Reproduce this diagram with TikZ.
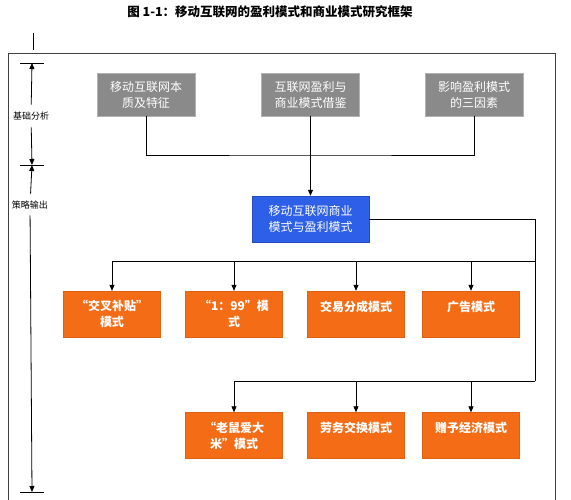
\documentclass[tikz,border=0pt]{standalone}
\usepackage{fontspec}
\newfontfamily\cjk{Noto Sans CJK SC}
\usetikzlibrary{arrows.meta}
\definecolor{boxgray}{RGB}{138,138,138}
\definecolor{boxblue}{RGB}{45,95,232}
\definecolor{boxorange}{RGB}{244,108,22}
\tikzset{%
  tipA/.tip={Triangle[length=6pt,width=5pt]},
  gbox/.style={fill=boxgray, draw=gray!60, text=white, align=center,
    minimum width=98pt, minimum height=43pt, inner sep=2pt,
    font=\cjk\fontsize{12}{16}\selectfont},
  bbox/.style={gbox, fill=boxblue, draw=boxblue!80!black,
    minimum width=117pt, minimum height=46pt},
  obox/.style={gbox, fill=boxorange, draw=boxorange!90!black,
    minimum width=97pt, minimum height=46pt,
    font=\cjk\bfseries\fontsize{12}{16}\selectfont},
  side/.style={font=\cjk\fontsize{9}{10}\selectfont, inner sep=2pt},
  wire/.style={line width=0.8pt}
}

\begin{document}
\begin{tikzpicture}[x=1pt,y=-1pt]
\clip (0,0) rectangle (571,500);
\fill[white] (0,0) rectangle (571,500);
\node[font=\cjk\bfseries\fontsize{12.5}{14}\selectfont] (title) at (270,12) {图 1-1：移动互联网的盈利模式和商业模式研究框架};
% frame
\draw[line width=0.8pt, black!75] (8,53) rectangle (555,520);
\draw[line width=0.8pt] (33,33) -- (33,50);
% left markers
\coordinate (tkA) at (32,63);
\coordinate (tkB) at (32,165);
\coordinate (tkC) at (32,492);
\foreach \t in {tkA,tkB,tkC}
  \draw[line width=0.8pt] ([xshift=-12pt]\t) -- ([xshift=12pt]\t);
\node[side] (basis) at (31,116) {基础分析};
\node[side] (strat) at (30,205) {策略输出};
\draw[wire, -tipA, shorten <=5pt] (basis) -- (tkA);
\draw[wire, -tipA, shorten <=5pt] (basis) -- (tkB);
\draw[wire, -tipA, shorten <=5pt] (strat) -- (tkB);
\draw[wire, -tipA, shorten <=4pt] (strat) -- (tkC);
% top row
\node[gbox] (nature) at (146,94.5) {移动互联网本\\质及特征};
\node[gbox] (refer) at (310.5,94.5) {互联网盈利与\\商业模式借鉴};
\node[gbox] (factor) at (474,94.5) {影响盈利模式\\的三因素};
\node[bbox] (core) at (310.5,219) {移动互联网商业\\模式与盈利模式};
\coordinate (busA) at (310.5,155);
\draw[wire] (nature.south) |- (busA) -| (factor.south);
\draw[wire, -tipA] (refer.south) -- (core.north);
% model rows
\node[obox] (cross) at (112,314) {“交叉补贴”\\模式};
\node[obox] (ratio) at (234,314) {“1：99”模\\式};
\node[obox] (share) at (356,314) {交易分成模式\\~};
\node[obox] (advert) at (471,314) {广告模式\\~};
\node[obox] (mouse) at (234,435.5) {“老鼠爱大\\米”模式};
\node[obox] (labor) at (356,435.5) {劳务交换模式\\~};
\node[obox] (gift) at (471,435.5) {赠予经济模式\\~};
\coordinate (busB) at (535,261);
\coordinate (busC) at (535,381);
\draw[wire] (core.east) -| (busC);
\draw[wire, -tipA] (busB) -| (cross.north);
\foreach \n in {ratio,share,advert}
  \draw[wire, -tipA] (\n.north |- busB) -- (\n.north);
\draw[wire, -tipA] (busC) -| (mouse.north);
\foreach \n in {labor,gift}
  \draw[wire, -tipA] (\n.north |- busC) -- (\n.north);
\end{tikzpicture}
\end{document}
